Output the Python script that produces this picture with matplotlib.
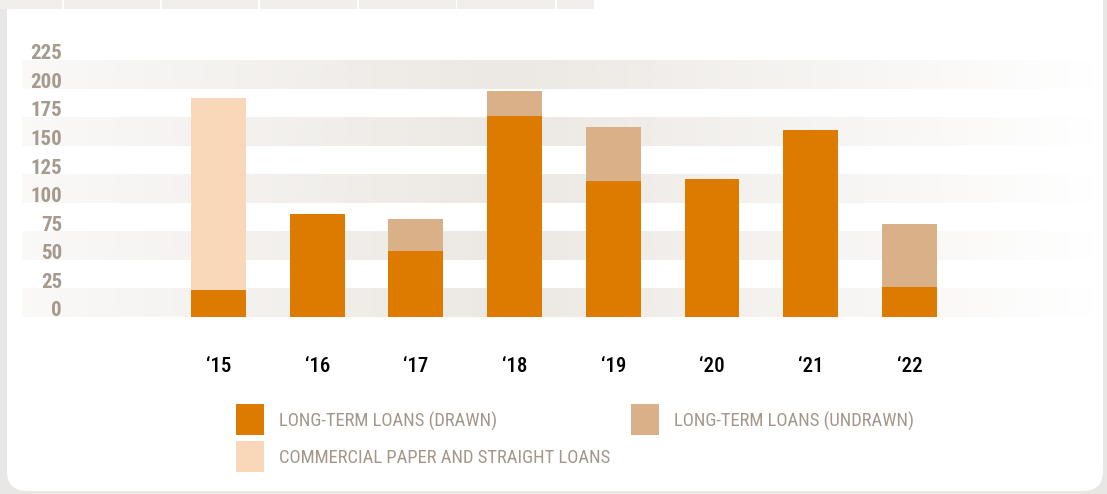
import matplotlib
matplotlib.use("Agg")
import matplotlib.pyplot as plt
from matplotlib import font_manager as fm
import numpy as np
from matplotlib.patches import FancyBboxPatch, Rectangle

# data
years = ["\u201815", "\u201816", "\u201817", "\u201818", "\u201819", "\u201820", "\u201821", "\u201822"]
drawn = [24, 90, 58, 176, 119, 121, 164, 26]
undrawn = [0, 0, 28, 22, 47, 0, 0, 55]
commercial = [168, 0, 0, 0, 0, 0, 0, 0]
yticks = [0, 25, 50, 75, 100, 125, 150, 175, 200, 225]
bands = [(0, 25), (50, 75), (100, 125), (150, 175), (200, 225)]
legend_labels = ["LONG-TERM LOANS (DRAWN)", "LONG-TERM LOANS (UNDRAWN)",
                 "COMMERCIAL PAPER AND STRAIGHT LOANS"]

C_DRAWN = "#DD7A00"
C_UNDRAWN = "#D9B087"
C_CP = "#F8D8B8"
C_LABEL = "#A59A8D"

# pick a narrow sans if one is around (reference uses a condensed face)
installed = {f.name for f in fm.fontManager.ttflist}
narrow = None
for cand in ["Liberation Sans Narrow", "Roboto Condensed", "Noto Sans Condensed",
             "Open Sans Condensed", "DejaVu Sans Condensed", "Noto Sans Display Condensed"]:
    if cand in installed:
        narrow = cand
        break
if narrow is None:
    FONT = ["Roboto", "DejaVu Sans"]
    SCALE = 0.9
else:
    FONT = [narrow, "DejaVu Sans"]
    SCALE = 1.0

W, H = 1107, 494
fig = plt.figure(figsize=(W / 100, H / 100), dpi=100, facecolor="#E9E7E5")
tr = fig.dpi_scale_trans


def px(x, y):
    # pixel (top-left origin) -> inches for dpi_scale_trans
    return x / 100, (H - y) / 100


# white card with rounded corners
cx, cy = px(7, 491)
card = FancyBboxPatch((cx, cy), (1103 - 7) / 100, (491 + 30) / 100,
                      boxstyle="round,pad=0,rounding_size=0.2",
                      transform=tr, facecolor="white", edgecolor="none", zorder=-3)
fig.patches.append(card)

# grey strip along the top-left (table remnant)
sx, sy = px(0, 9)
fig.patches.append(Rectangle((sx, sy), 5.94, 0.09, transform=tr,
                             facecolor="#F1EFEE", edgecolor="none", zorder=-2))
for dx in [62, 160, 258, 357, 456, 555]:
    lx, ly = px(dx, 9)
    fig.patches.append(Rectangle((lx, ly), 0.015, 0.09, transform=tr,
                                 facecolor="white", edgecolor="none", zorder=-1))

# plot area: value 0 at y=317px, value 225 at y=60px
ax = fig.add_axes([22 / W, 1 - 317 / H, (1097 - 22) / W, (317 - 60) / H])
ax.set_facecolor("none")
x = np.arange(len(years))
xlim = ((22 - 218.5) / 98.7, (1097 - 218.5) / 98.7)

# horizontal gradient bands
cols = np.linspace(0, 1, 400)
alpha = np.interp(cols, [0, 0.45, 1], [0.25, 1.0, 0.0])
grad = np.zeros((1, len(cols), 4))
grad[..., :3] = np.array([236, 232, 227]) / 255
grad[..., 3] = alpha
for lo, hi in bands:
    ax.imshow(grad, extent=[xlim[0], xlim[1], lo, hi], aspect="auto",
              interpolation="bilinear", zorder=1)

bw = 0.557
ax.bar(x, drawn, width=bw, color=C_DRAWN, zorder=3)
ax.bar(x, undrawn, width=bw, bottom=drawn, color=C_UNDRAWN, zorder=3)
ax.bar(x, commercial, width=bw, bottom=drawn, color=C_CP, zorder=3)

ax.set_xlim(*xlim)
ax.set_ylim(0, 225)
ax.set_xticks([])
ax.set_yticks([])
for s in ax.spines.values():
    s.set_visible(False)

for v in yticks:
    ax.text(40 / 1075, v + 0.6, str(v), transform=ax.get_yaxis_transform(),
            ha="right", va="baseline", fontsize=15 * SCALE, fontweight="bold",
            color=C_LABEL, family=FONT)
for xi, lab in zip(x, years):
    ax.text(xi, (317 - 372) / 257, lab, transform=ax.get_xaxis_transform(),
            ha="center", va="baseline", fontsize=15 * SCALE, fontweight="medium",
            color="black", family=FONT, clip_on=False)

# legend drawn by hand in a 2-column layout
legend_pos = [(236, 404), (631, 404), (236, 441)]
for (lx, ly), lab, col in zip(legend_pos, legend_labels, [C_DRAWN, C_UNDRAWN, C_CP]):
    rx, ry = px(lx, ly + 31)
    fig.patches.append(Rectangle((rx, ry), 0.28, 0.31, transform=tr,
                                 facecolor=col, edgecolor="none"))
    tx, ty = px(lx + 43, ly + 17)
    fig.text(tx, ty, lab, transform=tr, ha="left", va="center",
             fontsize=13.4 * SCALE, color="#A39789", family=FONT)

fig.savefig("out.png", dpi=100, facecolor=fig.get_facecolor())
